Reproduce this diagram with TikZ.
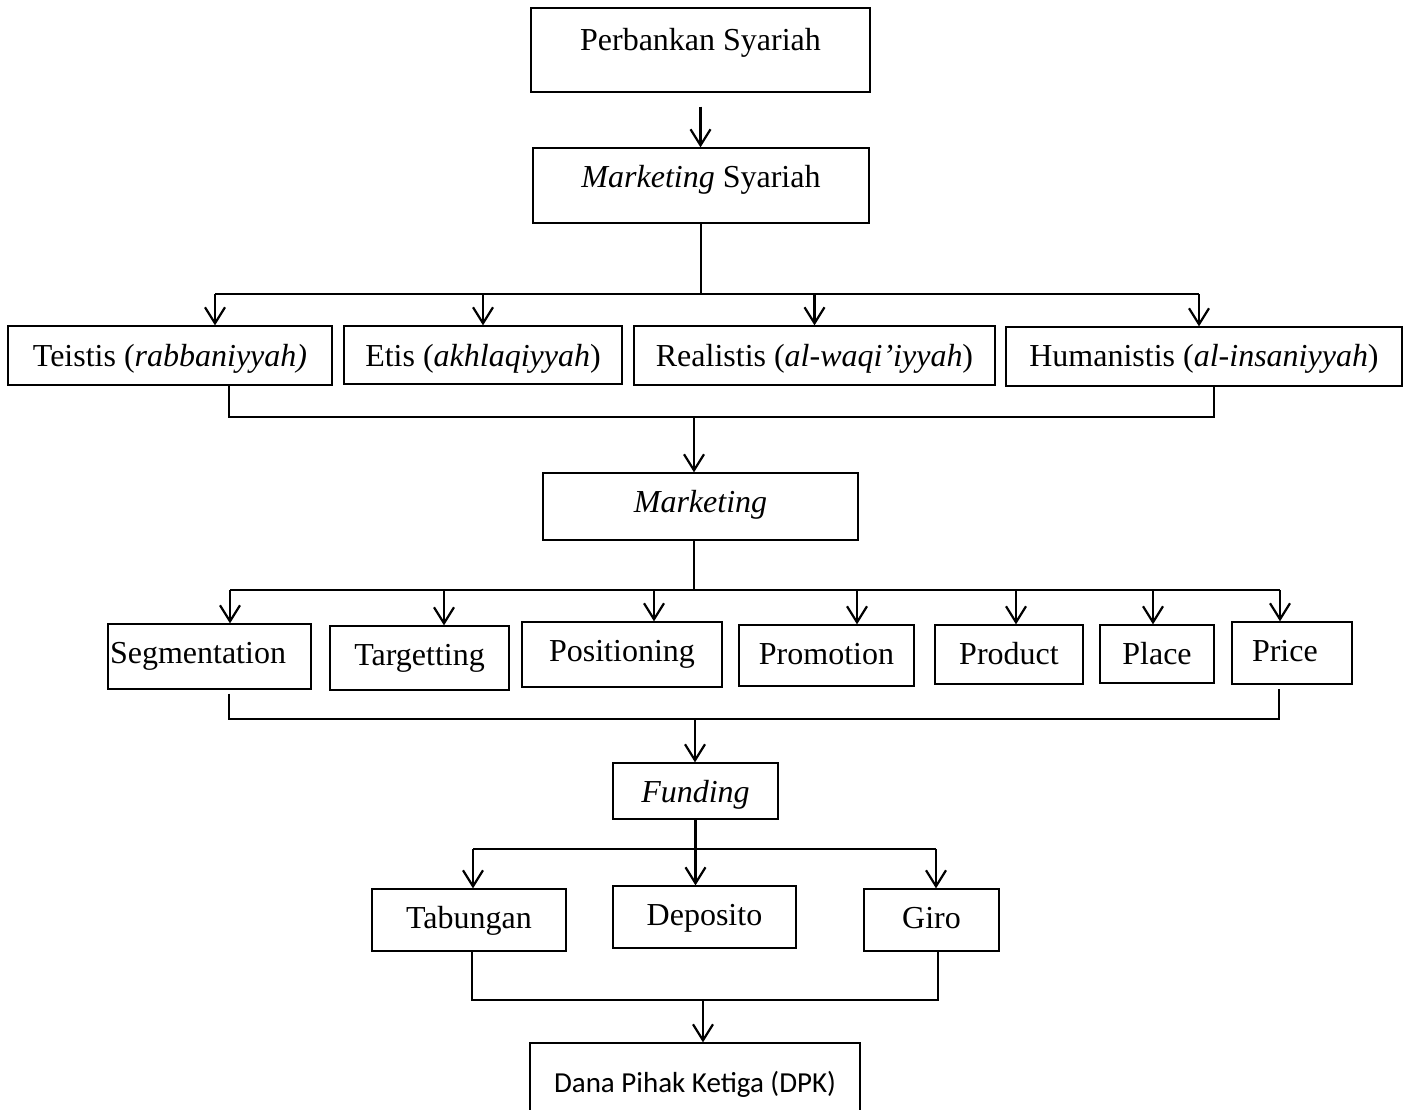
\documentclass[tikz,border=0pt]{standalone}
\usepackage{fontspec}
\setmainfont{Liberation Serif}
\newfontfamily\calibri{Carlito}
\usetikzlibrary{arrows.meta}

\begin{document}
\begin{tikzpicture}[x=1pt,y=-1pt,>={Straight Barb[length=16pt,width=20pt]},
  font=\fontsize{32}{38}\selectfont,
  kasten/.style n args={3}{draw, line width=1.3pt, inner sep=0pt, anchor=base,
    minimum width=#1, text height=#2, text depth=#3},
  linie/.style={line width=2.2pt}]
\useasboundingbox (0,0) rectangle (1406,1109);

%Kaesten oben
\node[kasten={339pt}{42pt}{42pt}] (perbankan) at (700.5,50) {Perbankan Syariah};
\node[kasten={336pt}{39pt}{36pt}] (msyariah) at (701,187) {\textit{Marketing} Syariah};

%vier Merkmale
\node[kasten={324pt}{40pt}{19pt}] (teistis) at (170,366) {Teistis (\textit{rabbaniyyah)}};
\node[kasten={278pt}{40pt}{18pt}] (etis) at (483,366) {Etis (\textit{akhlaqiyyah})};
\node[kasten={361pt}{40pt}{19pt}] (realistis) at (814.5,366) {Realistis (\textit{al-waqi’iyyah})};
\node[kasten={396pt}{39pt}{20pt}] (humanistis) at (1204,366) {Humanistis (\textit{al-insaniyyah})};

\node[kasten={315pt}{39pt}{28pt}] (marketing) at (700.5,512) {\textit{Marketing}};

%Segmentation bis Price
\node[kasten={203pt}{39pt}{26pt}, text width=199pt, align=left, inner xsep=2pt] (segmentation) at (209.5,663) {Segmentation};
\node[kasten={179pt}{39pt}{25pt}] (targetting) at (419.5,665) {Targetting};
\node[kasten={200pt}{39pt}{26pt}] (positioning) at (622,661) {Positioning};
\node[kasten={175pt}{39pt}{22pt}] (promotion) at (826.5,664) {Promotion};
\node[kasten={148pt}{39pt}{20pt}] (product) at (1009,664) {Product};
\node[kasten={114pt}{39pt}{19pt}] (place) at (1157,664) {Place};
\node[kasten={120pt}{39pt}{23pt}, text width=80pt, align=left, inner xsep=20pt] (price) at (1292,661) {Price};

\node[kasten={165pt}{39pt}{17pt}] (funding) at (695.5,802) {\textit{Funding}};

%Produkte
\node[kasten={194pt}{39pt}{23pt}] (tabungan) at (469,928) {Tabungan};
\node[kasten={183pt}{39pt}{23pt}] (deposito) at (704.5,925) {Deposito};
\node[kasten={135pt}{39pt}{23pt}] (giro) at (931.5,928) {Giro};

%unten abgeschnitten
\node[kasten={330pt}{49pt}{38pt}, font=\calibri\fontsize{29}{34}\selectfont] (dpk) at (695,1092) {Dana Pihak Ketiga (DPK)};

%Pfeile oben
\draw[linie,->] ([yshift=-14pt]perbankan.south) to (msyariah.north -| perbankan.south);

\coordinate (v1) at (215,294);
\coordinate (v4) at (1199,294);
\draw[linie] (msyariah.south) to (msyariah.south |- v1);
\draw[linie] (v1) to (v4);
\draw[linie,->] (v1) to (teistis.north -| v1);
\draw[linie,->] (etis.north |- v1) to (etis.north);
\draw[linie,->] (realistis.north |- v1) to (realistis.north);
\draw[linie,->] (v4) to (humanistis.north -| v4);

\coordinate (s1) at (229,417);
\coordinate (s2) at (694,417);
\coordinate (s4) at (1214,417);
\draw[linie] (teistis.south -| s1) to (s1) to (s4) to (humanistis.south -| s4);
\draw[linie,->] (s2) to (marketing.north -| s2);

%Verteilung Marketing
\coordinate (m1) at (230,590);
\coordinate (m7) at (1280,590);
\draw[linie] (s2 |- marketing.south) to (s2 |- m1);
\draw[linie] (m1) to (m7);
\draw[linie,->] (m1) to (segmentation.north -| m1);
\foreach \n/\x in {targetting/444, positioning/654, promotion/857, product/1016, place/1153}
{
  \coordinate (p\n) at (\x,590);
  \draw[linie,->] (p\n) to (\n.north -| p\n);
}
\draw[linie,->] (m7) to (price.north -| m7);

\coordinate (u1) at (229,719);
\coordinate (u4) at (695,719);
\coordinate (u7) at (1279,719);
\draw[linie] ([yshift=-4pt]segmentation.south -| u1) to (u1) to (u7) to ([yshift=-4pt]price.south -| u7);
\draw[linie,->] (u4) to (funding.north -| u4);

%Funding
\coordinate (f1) at (473,849);
\coordinate (f3) at (936,849);
\draw[linie] (f1) to (f3);
\draw[linie,->] (funding.south) to (deposito.north -| funding.south);
\draw[linie,->] (f1) to (tabungan.north -| f1);
\draw[linie,->] (f3) to (giro.north -| f3);

\coordinate (d1) at (472,1000);
\coordinate (d2) at (703,1000);
\coordinate (d3) at (938,1000);
\draw[linie] (tabungan.south -| d1) to (d1) to (d3) to (giro.south -| d3);
\draw[linie,->] (d2) to (dpk.north -| d2);

\end{tikzpicture}
\end{document}
